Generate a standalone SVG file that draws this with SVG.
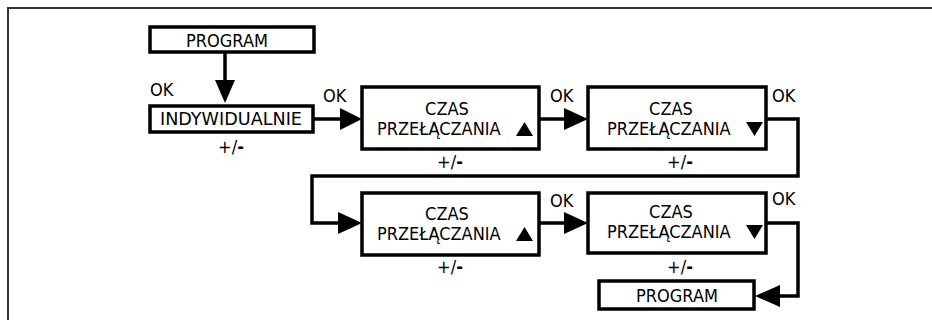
<svg xmlns="http://www.w3.org/2000/svg" width="932" height="320" viewBox="0 0 932 320">
<defs>
<style>
.frame{fill:none;stroke:#333;stroke-width:2}
.box{fill:#fff;stroke:#000;stroke-width:3.5}
.wire{fill:none;stroke:#000;stroke-width:3.5}
.head{fill:#000}
text{font-family:"DejaVu Sans Condensed","DejaVu Sans",sans-serif;font-stretch:condensed;font-size:18px;fill:#000}
.c{text-anchor:middle}
.b{font-weight:bold}
</style>
</defs>
<rect width="932" height="320" fill="#fff"/>
<path class="frame" d="M8,322 V8 H934"/>
<g id="connectors">
<path class="wire" d="M225,53 V84"/>
<polygon class="head" points="215,80 235,80 225,103"/>
<path class="wire" d="M313,119 H342"/>
<polygon class="head" points="340,108 340,130 362,119"/>
<path class="wire" d="M539,119 H566"/>
<polygon class="head" points="564,108 564,130 588,119"/>
<path class="wire" d="M766,119 H798 V176 H312 V223 H340"/>
<polygon class="head" points="338,212 338,234 362,223"/>
<path class="wire" d="M539,223 H566"/>
<polygon class="head" points="564,212 564,234 588,223"/>
<path class="wire" d="M766,223 H798 V296 H778"/>
<polygon class="head" points="780,285 780,307 755,296"/>
</g>
<g id="program-top">
<rect class="box" x="150" y="27" width="164" height="25"/>
<text class="c" x="227" y="47">PROGRAM</text>
</g>
<g id="indywidualnie">
<rect class="box" x="150" y="106" width="163" height="26"/>
<text class="c" x="231" y="125" textLength="142" lengthAdjust="spacingAndGlyphs">INDYWIDUALNIE</text>
<text x="150" y="96">OK</text>
<text class="c" x="231" y="153">+/<tspan class="b">-</tspan></text>
</g>
<g id="czas1">
<rect class="box" x="362" y="87" width="177" height="62"/>
<text class="c" x="447" y="115">CZAS</text>
<text x="377" y="135">PRZEŁĄCZANIA</text>
<polygon points="516,136 533,136 524.5,122"/>
<text x="323" y="102">OK</text>
<text class="c" x="450" y="168">+/<tspan class="b">-</tspan></text>
</g>
<g id="czas2">
<rect class="box" x="588" y="87" width="178" height="62"/>
<text class="c" x="671" y="115">CZAS</text>
<text x="607" y="135">PRZEŁĄCZANIA</text>
<polygon points="746,122 763,122 754.5,136"/>
<text x="550" y="102">OK</text>
<text x="772" y="102">OK</text>
<text class="c" x="680" y="168">+/<tspan class="b">-</tspan></text>
</g>
<g id="czas3">
<rect class="box" x="362" y="193" width="177" height="62"/>
<text class="c" x="447" y="220">CZAS</text>
<text x="377" y="240">PRZEŁĄCZANIA</text>
<polygon points="516,241 533,241 524.5,227"/>
<text class="c" x="450" y="273">+/<tspan class="b">-</tspan></text>
</g>
<g id="czas4">
<rect class="box" x="588" y="193" width="178" height="60"/>
<text class="c" x="671" y="218">CZAS</text>
<text x="607" y="238">PRZEŁĄCZANIA</text>
<polygon points="746,225 763,225 754.5,239"/>
<text x="550" y="207">OK</text>
<text x="772" y="205">OK</text>
<text class="c" x="680" y="273">+/<tspan class="b">-</tspan></text>
</g>
<g id="program-bottom">
<rect class="box" x="599" y="281" width="155" height="28"/>
<text class="c" x="677" y="302">PROGRAM</text>
</g>
</svg>
